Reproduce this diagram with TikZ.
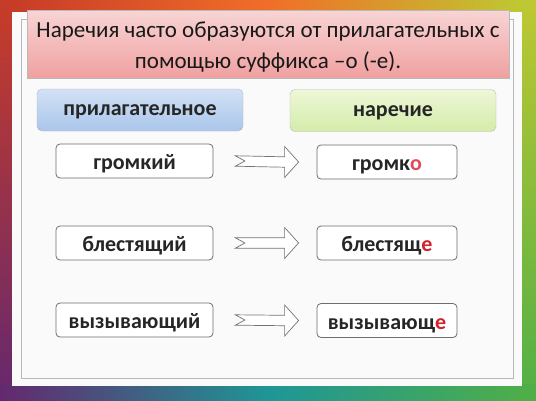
\documentclass[tikz,border=0pt]{standalone}
\usepackage{fontspec}
\setmainfont{Carlito}
\usetikzlibrary{calc}
\definecolor{bgred}{RGB}{200,60,40}
\definecolor{bgorange}{RGB}{240,110,40}
\definecolor{bgyellow}{RGB}{190,200,50}
\definecolor{bggreen}{RGB}{80,175,70}
\definecolor{bgpurple}{RGB}{100,40,110}
\definecolor{bgteal}{RGB}{30,150,150}
\definecolor{cardfill}{RGB}{250,250,250}
\definecolor{cardline}{RGB}{185,185,185}
\definecolor{pinktop}{RGB}{248,212,212}
\definecolor{pinkbot}{RGB}{240,160,160}
\definecolor{bluetop}{RGB}{210,225,245}
\definecolor{bluebot}{RGB}{170,198,235}
\definecolor{greentop}{RGB}{238,247,215}
\definecolor{greenbot}{RGB}{212,236,170}
\definecolor{boxline}{RGB}{110,110,110}
\definecolor{redletter}{RGB}{210,35,45}
\definecolor{pinkletter}{RGB}{225,75,85}
\tikzset{
  headbox/.style={draw=cardline, rounded corners=5pt, minimum width=206pt, minimum height=42pt, font=\fontsize{22}{24}\selectfont\bfseries, text=black!85, text height=11pt, text depth=0pt},
  wordbox/.style={draw=boxline, line width=0.8pt, fill=white, rounded corners=4pt, minimum height=34pt, font=\fontsize{22}{24}\selectfont\bfseries, text=black!85, text height=17pt, text depth=0pt},
  leftword/.style={wordbox, minimum width=157pt},
  rightword/.style={wordbox, minimum width=140pt},
  titleline/.style={anchor=base, font=\fontsize{23}{28}\selectfont, text=black!90, inner sep=0pt},
  fatarrow/.style={draw=black!55, line width=0.7pt, fill=white}
}
\newcommand{\rl}[1]{\textcolor{redletter}{#1}}
\begin{document}
\begin{tikzpicture}[x=1pt,y=-1pt]
\useasboundingbox (0,0) rectangle (536,400);
% background
\shade[left color=bgred, right color=bggreen, middle color=bgorange] (0,0) rectangle (536,400);
\shade[top color=bgred, bottom color=bgpurple] (0,0) rectangle (14,400);
\shade[top color=bgyellow, bottom color=bggreen] (520,0) rectangle (536,400);
\shade[left color=bgpurple, right color=bggreen, middle color=bgteal] (0,384) rectangle (536,400);
\shade[left color=bgred, right color=bgyellow, middle color=bgorange] (14,0) rectangle (520,14);
% card
\fill[cardfill] (12,12) rectangle (522,386);
\draw[cardline, line width=1pt] (21,19) rectangle (513,378);
% title
\node[draw=cardline, top color=pinktop, bottom color=pinkbot, minimum width=482pt, minimum height=68pt, inner sep=0pt] (title) at (268,44.5) {};
\node[titleline] (title1) at (268,37.3) {Наречия часто образуются от прилагательных с};
\node[titleline] (title2) at (268,68) {помощью суффикса –о (-е).};
% headers
\node[headbox, top color=bluetop, bottom color=bluebot] (hadj) at (140,110) {прилагательное};
\node[headbox, top color=greentop, bottom color=greenbot] (hadv) at (393,110.5) {наречие};
% words
\node[leftword] (a1) at (134.5,161) {громкий};
\node[leftword] (a2) at (134.5,243) {блестящий};
\node[leftword] (a3) at (134.5,320) {вызывающий};
\node[rightword] (b1) at (387,162) {громк\textcolor{pinkletter}{о}};
\node[rightword] (b2) at (387,243) {блестящ\rl{е}};
\node[rightword] (b3) at (387,320.5) {вызывающ\rl{е}};
% arrows
\foreach \i in {1,2,3}{
  \coordinate (s\i) at ($(a\i.east)+(22,0)$);
  \coordinate (t\i) at ($(b\i.west)+(-18,0)$);
  \draw[fatarrow] (s\i) ++(0,-5.2) -- ($(t\i)+(-14,-5.2)$) -- ($(t\i)+(-14,-15.5)$) -- (t\i) -- ($(t\i)+(-14,15.5)$) -- ($(t\i)+(-14,5.2)$) -- ($(s\i)+(0,5.2)$) -- ($(s\i)+(9.5,0)$) -- cycle;
}
\end{tikzpicture}
\end{document}
